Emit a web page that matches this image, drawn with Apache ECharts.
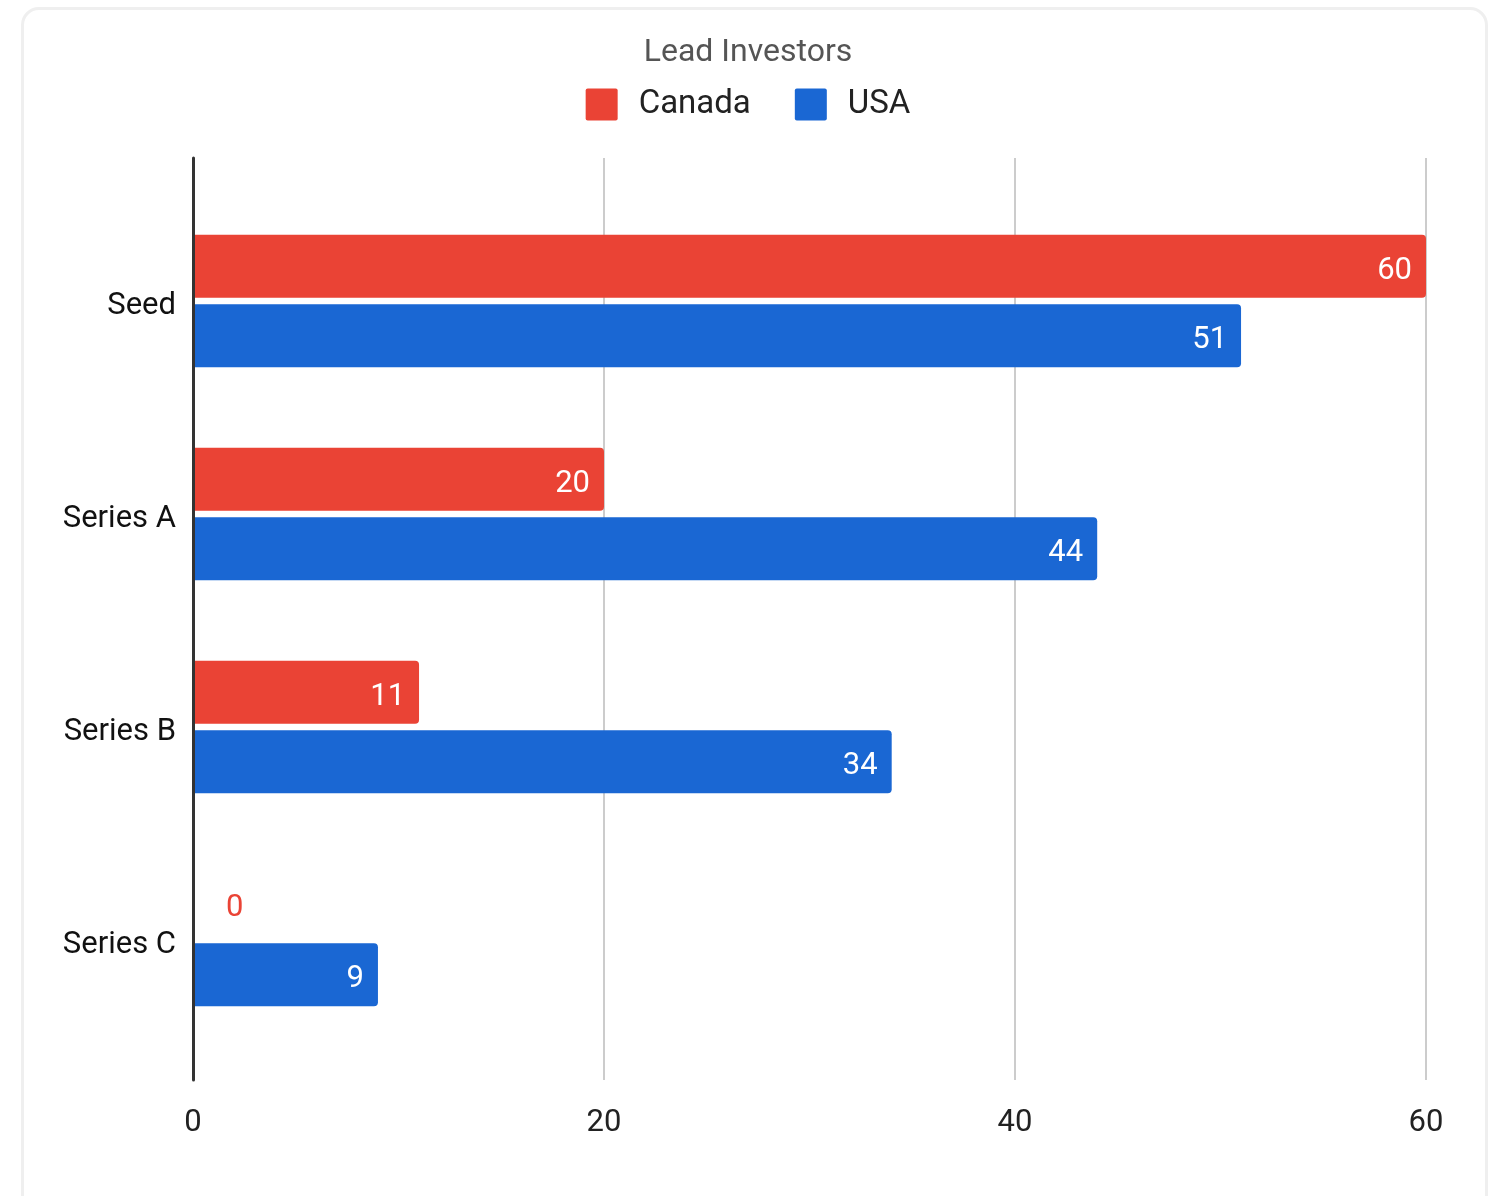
<!DOCTYPE html>
<html><head><meta charset="utf-8">
<script src="https://cdn.jsdelivr.net/npm/echarts@6/dist/echarts.min.js"></script>
<style>
html,body{margin:0;padding:0;background:#fff;}
#card{position:absolute;left:21px;top:7px;width:1467px;height:1210px;border:3px solid #efefef;border-radius:18px;box-sizing:border-box;}
#chart{position:absolute;left:0;top:0;width:1496px;height:1196px;}
</style></head>
<body>
<div id="card"></div>
<div id="chart"></div>
<script>
const categories = ['Seed', 'Series A', 'Series B', 'Series C'];
const canada = [60, 20, 11, 0];
const usa = [51, 44, 34, 9];
const xTicks = [0, 20, 40, 60];
const seriesNames = ['Canada', 'USA'];
const colors = ['#EA4335', '#1A67D3'];

const chart = echarts.init(document.getElementById('chart'));
const font = 'Roboto, "Noto Sans", sans-serif';
const labelBase = {show: true, position: 'insideRight', distance: 14, offset: [0, 5], color: '#fff', fontSize: 31, fontFamily: font};
function seriesData(vals, color) {
  return vals.map(v => v === 0
    ? {value: v, label: {show: true, position: 'right', distance: 33, offset: [0, 3], color: color, fontSize: 31, fontFamily: font}}
    : v);
}
chart.setOption({
  animation: false,
  textStyle: {fontFamily: font},
  title: {text: 'Lead Investors', left: 'center', top: 32,
    textStyle: {fontSize: 32, fontWeight: 'normal', color: '#555', fontFamily: font}},
  legend: {top: 83, left: 'center', itemWidth: 32, itemHeight: 32, itemGap: 44,
    icon: 'path://M2,0 L30,0 Q32,0 32,2 L32,30 Q32,32 30,32 L2,32 Q0,32 0,30 L0,2 Q0,0 2,0 Z',
    textStyle: {fontSize: 33, color: '#222', fontFamily: font, padding: [4, 0, 0, 16]},
    data: seriesNames},
  grid: [
    {left: 193, right: 70, top: 158, bottom: 116},
    {left: 193, right: 70, top: 194.5, bottom: 149.5},
    {left: 193, right: 70, top: 199.5, bottom: 144.5}
  ],
  xAxis: [
    {gridIndex: 0, type: 'value', min: xTicks[0], max: xTicks[xTicks.length - 1], interval: 20,
      axisLine: {show: false}, axisTick: {show: false},
      splitLine: {show: true, lineStyle: {color: '#cccccc', width: 2}},
      axisLabel: {fontSize: 31, color: '#222', margin: 28, fontFamily: font}},
    {gridIndex: 1, type: 'value', min: xTicks[0], max: xTicks[xTicks.length - 1], interval: 20,
      show: false},
    {gridIndex: 2, type: 'value', min: xTicks[0], max: xTicks[xTicks.length - 1], interval: 20,
      show: false}
  ],
  yAxis: [
    {gridIndex: 0, type: 'category', data: categories, inverse: true,
      axisLine: {show: true, lineStyle: {color: '#333', width: 3}}, axisTick: {show: false},
      axisLabel: {show: false}, splitLine: {show: false}, z: 5},
    {gridIndex: 1, type: 'category', data: categories, inverse: true,
      axisLine: {show: false}, axisTick: {show: false}, axisLabel: {show: false}},
    {gridIndex: 2, type: 'category', data: categories, inverse: true,
      axisLine: {show: false}, axisTick: {show: false},
      axisLabel: {fontSize: 31, color: '#111', margin: 17, fontFamily: font}}
  ],
  series: [
    {name: seriesNames[0], type: 'bar', xAxisIndex: 1, yAxisIndex: 1, data: seriesData(canada, colors[0]),
      barWidth: 63, barGap: '10%', itemStyle: {color: colors[0], borderRadius: [0, 4, 4, 0]}, label: labelBase},
    {name: seriesNames[1], type: 'bar', xAxisIndex: 1, yAxisIndex: 1, data: seriesData(usa, colors[1]),
      barWidth: 63, barGap: '10%', itemStyle: {color: colors[1], borderRadius: [0, 4, 4, 0]}, label: labelBase}
  ]
});
</script>
</body></html>
